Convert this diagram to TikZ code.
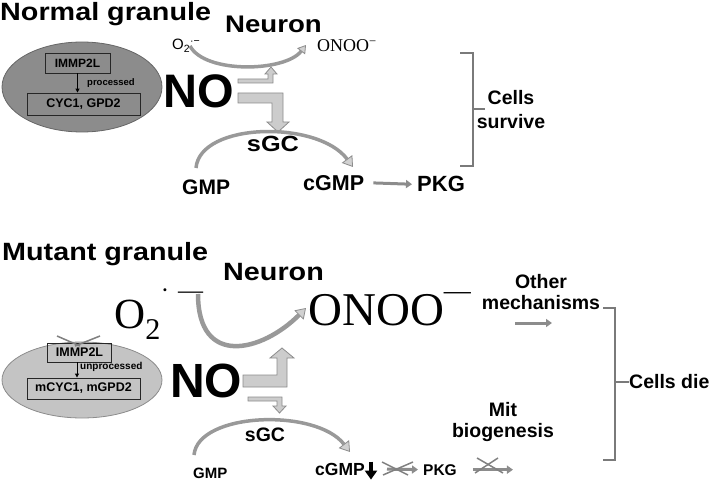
\documentclass[tikz,border=0pt]{standalone}
\usepackage{fontspec}
\setmainfont{Liberation Sans}
\newfontfamily\serifrm{Liberation Serif}
\newfontfamily\widesf[FakeStretch=1.15]{Liberation Sans}
\usetikzlibrary{arrows.meta,shapes.geometric}
\newcommand{\bsf}[2]{\bfseries\fontsize{#1}{#2}\selectfont}
\newcommand{\wsf}[1]{\widesf\bfseries\fontsize{#1}{#1}\selectfont}
\newcommand{\rsf}[1]{\serifrm\fontsize{#1}{#1}\selectfont}

\begin{document}
\begin{tikzpicture}[x=1pt,y=-1pt,
    txt/.style={inner sep=0pt},
    genebox/.style={draw=black!85,line width=0.9pt,inner sep=0pt},
    blockarrow/.style={fill=black!20,draw=black!45,line width=0.8pt},
    curvearrow/.style={draw=black!40,line width=3.5pt,
      -{Triangle[length=10pt,width=13pt,fill=black!18,color=black!45,line width=0.8pt]}},
    flatarrow/.style={draw=black!45,line width=3pt,-{Triangle[length=6pt,width=8pt]}},
    xline/.style={draw=black!50,line width=1.5pt},
    brace/.style={draw=black!52,line width=2.5pt}]
    \useasboundingbox (0,0) rectangle (709,481);

    % normal granule
    \node[draw=black!60,fill=black!45,line width=0.8pt,ellipse,minimum width=160pt,minimum height=90pt] (cellA) at (82,87) {};
    \node[genebox,minimum width=65pt,minimum height=20pt,font=\bsf{12}{14}] (immpA) at (77.5,63) {IMMP2L};
    \node[genebox,minimum width=113pt,minimum height=22pt,font=\bsf{12.5}{14}] (cycA) at (83.5,104) {CYC1, GPD2};
    \draw[-{Triangle[length=4pt,width=4pt]},line width=1pt] (immpA.south) -- (immpA.south |- cycA.north);
    \node[txt,anchor=west,font=\bsf{9.5}{11}] (procA) at (87,83) {processed};

    \node[txt,anchor=base west,font=\wsf{25}] (titleA) at (0,21) {Normal granule};
    \node[txt,anchor=base west,font=\wsf{24}] (neuronA) at (225,33) {Neuron};
    \node[txt,anchor=base west,font=\fontsize{15}{15}\selectfont] (o2A) at (172,50) {O\textsubscript{2}\textsuperscript{·−}};
    \node[txt,anchor=base west,font=\rsf{18}] (onooA) at (317,52) {ONOO\textsuperscript{−}};
    \node[txt,anchor=base west,font=\bsf{47}{50}] (noA) at (163,108) {NO};
    \node[txt,anchor=base,font=\wsf{22}] (sgcA) at (273,152) {sGC};
    \node[txt,anchor=base west,font=\bsf{21}{24}] (gmpA) at (182,195) {GMP};
    \node[txt,anchor=base west,font=\bsf{21.5}{24}] (cgmpA) at (303,190) {cGMP};
    \node[txt,anchor=base west,font=\bsf{22}{24}] (pkgA) at (417,192) {PKG};
    \node[txt,align=center,font=\bsf{19.5}{24}] (surviveA) at (511,110) {Cells\\survive};

    \coordinate (o2Aend) at (190,46);
    \coordinate (onooAend) at (306,45);
    \draw[curvearrow,line width=3.5pt,
      -{Triangle[length=8pt,width=10pt,fill=black!18,color=black!45,line width=0.8pt]}]
      (o2Aend) .. controls (205,74) and (285,72) .. (onooAend);
    \filldraw[blockarrow] (238,79) -- (268,79) -- (268,74) -- (265,74) -- (271,67)
      -- (277,74) -- (273,74) -- (273,83) -- (238,83) -- cycle;
    \filldraw[blockarrow] (238,93) -- (283,93) -- (283,122) -- (289,122) -- (278,132)
      -- (267,122) -- (272,122) -- (272,103) -- (238,103) -- cycle;
    \coordinate (gmpAend) at (196,168);
    \coordinate (cgmpAend) at (353,167);
    \draw[curvearrow] (gmpAend) .. controls (200,122) and (318,120) .. (cgmpAend);
    \draw[flatarrow,shorten <=9pt,shorten >=5pt] (cgmpA.east) -- (pkgA.west);
    \draw[brace] (460,53) -- (473,53) -- (473,166) -- (460,166);
    \draw[brace] (473,109) -- ++(12,0);

    % mutant granule
    \node[draw=black!45,fill=black!23,line width=0.8pt,ellipse,minimum width=160pt,minimum height=76pt] (cellB) at (82,380) {};
    \node[genebox,minimum width=64pt,minimum height=19pt,font=\bsf{12.5}{14}] (immpB) at (79.5,352.5) {IMMP2L};
    \draw[xline] (57,336) -- (80,346);
    \draw[xline] (100,336) -- (75,346);
    \node[genebox,minimum width=113pt,minimum height=21pt,font=\bsf{12.5}{14}] (cycB) at (83.5,388.5) {mCYC1, mGPD2};
    \draw[-{Triangle[length=4pt,width=4pt]},line width=1pt] ([xshift=-2.5pt]immpB.south) -- ([xshift=-2.5pt]immpB.south |- cycB.north);
    \node[txt,anchor=west,font=\bsf{10}{12}] (unprocB) at (80,367) {unprocessed};

    \node[txt,anchor=base west,font=\wsf{25}] (titleB) at (2,260) {Mutant granule};
    \node[txt,anchor=base west,font=\wsf{25}] (neuronB) at (223,280) {Neuron};
    \node[txt,anchor=base west,font=\rsf{43}] (o2B) at (114,328) {O\textsubscript{2}\raisebox{30pt}{\fontsize{25}{25}\selectfont·\hspace{9pt}—}};
    \node[txt,anchor=base west,font=\rsf{47}] (onooB) at (308,325) {ONOO\raisebox{26pt}{\fontsize{27}{27}\selectfont—}};
    \node[txt,anchor=base west,font=\bsf{48}{50}] (noB) at (170,397) {NO};
    \node[txt,anchor=base,font=\bsf{19.5}{22}] (sgcB) at (265,441) {sGC};
    \node[txt,anchor=base west,font=\bsf{15}{18}] (gmpB) at (193,478) {GMP};
    \node[txt,anchor=base west,font=\bsf{17.5}{20}] (cgmpB) at (315,475) {cGMP};
    \node[txt,anchor=base west,font=\bsf{15.5}{18}] (pkgB) at (423,475) {PKG};
    \node[txt,align=center,font=\bsf{19.5}{21}] (otherB) at (541,292) {Other\\mechanisms};
    \node[txt,align=center,font=\bsf{19.5}{21}] (mitB) at (503,422) {Mit\\biogenesis};
    \node[txt,anchor=west,font=\bsf{19.5}{22}] (dieB) at (629,382) {Cells die};

    \coordinate (o2Bend) at (198,294);
    \coordinate (onooBend) at (306,308);
    \draw[curvearrow,line width=4.5pt] (o2Bend) .. controls (198,368) and (262,352) .. (onooBend);
    \filldraw[blockarrow] (243,375) -- (277,375) -- (277,358) -- (270,358) -- (282,348)
      -- (294,358) -- (287,358) -- (287,387) -- (243,387) -- cycle;
    \filldraw[blockarrow] (248,397) -- (282,397) -- (282,406) -- (286,406) -- (279.5,413)
      -- (273,406) -- (277,406) -- (277,401) -- (248,401) -- cycle;
    \coordinate (gmpBend) at (194,455);
    \coordinate (cgmpBend) at (350,452);
    \draw[curvearrow] (gmpBend) .. controls (198,412) and (316,408) .. (cgmpBend);
    \draw[-{Triangle[length=9pt,width=12pt]},line width=3.5pt] ([xshift=6pt,yshift=1pt]cgmpB.north east) -- ++(0,18);
    \draw[flatarrow,shorten <=12pt,shorten >=5pt] ([xshift=10pt]cgmpB.east) -- (pkgB.west);
    \draw[xline] (382,462) -- (408,475);
    \draw[xline] (383,475) -- (413,462);
    \draw[flatarrow] ([xshift=16pt]pkgB.east) -- ++(40,0);
    \draw[xline] (477,458) -- (503,473);
    \draw[xline] (475,473) -- (498,458);
    \draw[flatarrow] (515,323) -- (552,323);
    \draw[brace] (603,308) -- (615,308) -- (615,460) -- (603,460);
    \draw[brace] (615,382) -- (dieB.west);
\end{tikzpicture}
\end{document}
